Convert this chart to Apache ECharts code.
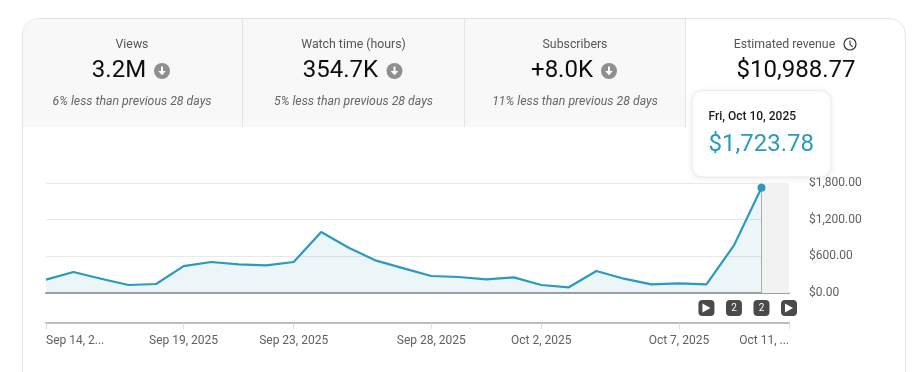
<!DOCTYPE html>
<html><head><meta charset="utf-8">
<style>html,body{margin:0;padding:0;background:#fff}#c{width:923px;height:372px}</style>
<script src="https://cdn.jsdelivr.net/npm/echarts@6/dist/echarts.min.js"></script>
</head><body><div id="c"></div>
<script>
const dates = ['Sep 14, 2025','Sep 15, 2025','Sep 16, 2025','Sep 17, 2025','Sep 18, 2025','Sep 19, 2025','Sep 20, 2025','Sep 21, 2025','Sep 22, 2025','Sep 23, 2025','Sep 24, 2025','Sep 25, 2025','Sep 26, 2025','Sep 27, 2025','Sep 28, 2025','Sep 29, 2025','Sep 30, 2025','Oct 1, 2025','Oct 2, 2025','Oct 3, 2025','Oct 4, 2025','Oct 5, 2025','Oct 6, 2025','Oct 7, 2025','Oct 8, 2025','Oct 9, 2025','Oct 10, 2025','Oct 11, 2025'];
const revenue = [218,343,234,131,147,441,507,469,452,507,998,741,529,403,278,262,223,256,131,93,360,234,142,158,142,779,1723.78,null];
const tickDates = ['Sep 14, 2025','Sep 19, 2025','Sep 23, 2025','Sep 28, 2025','Oct 2, 2025','Oct 7, 2025','Oct 11, 2025'];
const tickLabels = ['Sep 14, 2...','Sep 19, 2025','Sep 23, 2025','Sep 28, 2025','Oct 2, 2025','Oct 7, 2025','Oct 11, ...'];
const annotationDates = ['Oct 8, 2025','Oct 9, 2025','Oct 10, 2025','Oct 11, 2025'];
const annotationLabels = ['play','2','2','play'];
const focusDate = 'Oct 10, 2025';
const focusLabel = 'Fri, Oct 10, 2025';
const focusValue = '$1,723.78';
const metricTitles = ['Views','Watch time (hours)','Subscribers','Estimated revenue'];
const metricValues = ['3.2M','354.7K','+8.0K','$10,988.77'];
const metricNotes = ['6% less than previous 28 days','5% less than previous 28 days','11% less than previous 28 days'];

const FONT = 'Roboto, sans-serif';
const BLUE = '#2a9ac1';
const money = v => '$' + v.toFixed(2).replace(/\B(?=(\d{3})+(?!\d))/g, ',');
const txt = (x, y, text, fontSize, fill, extra) => ({type:'text', x, y, z:20, silent:true,
  style:Object.assign({text, fontFamily:FONT, fontSize, fill, align:'center', verticalAlign:'middle'}, extra||{})});
const downIcon = (cx, cy) => ({type:'group', x:cx, y:cy, silent:true, children:[
  {type:'circle', z:20, shape:{cx:0, cy:0, r:8}, style:{fill:'#8f8f8f'}},
  {type:'rect', z:21, shape:{x:-1, y:-4.5, width:2, height:6}, style:{fill:'#fff'}},
  {type:'polygon', z:21, shape:{points:[[-3.8,0],[3.8,0],[0,4.2]]}, style:{fill:'#fff'}}
]});

const headerCenters = [132, 353.5, 575, 796];
const graphics = [
  {type:'rect', z:-3, silent:true, shape:{x:22.5, y:18.5, width:883, height:420, r:16}, style:{fill:'#fff', stroke:'#e3e3e3', lineWidth:1}},
  {type:'rect', z:-2, silent:true, shape:{x:23, y:19, width:662, height:108, r:[15,0,0,0]}, style:{fill:'#f8f8f8'}},
  {type:'rect', z:-1, silent:true, shape:{x:242, y:19, width:1, height:108}, style:{fill:'#e3e3e3'}},
  {type:'rect', z:-1, silent:true, shape:{x:464, y:19, width:1, height:108}, style:{fill:'#e3e3e3'}},
  {type:'rect', z:-1, silent:true, shape:{x:685, y:19, width:1, height:108}, style:{fill:'#e3e3e3'}},
];
metricTitles.forEach((t,i)=>{
  const cx = headerCenters[i];
  graphics.push(txt(i===3?784.5:cx, 44.5, t, 12.3, '#555', {}));
  graphics.push(txt(i===3?796:cx-13, 71, metricValues[i], 24, '#0d0d0d', {}));
  if(i<3){
    const w = [52,74,60][i];
    graphics.push(downIcon(cx-13+w/2+17, 71));
    graphics.push(txt(cx, 101.5, metricNotes[i], 12.3, '#666', {fontStyle:'italic'}));
  }
});
graphics.push({type:'group', x:850, y:44, silent:true, children:[
  {type:'circle', z:20, shape:{cx:0, cy:0, r:6}, style:{fill:'none', stroke:'#333', lineWidth:1.2}},
  {type:'polyline', z:20, shape:{points:[[0,-3.5],[0,0.3],[2.5,2.8]]}, style:{fill:'none', stroke:'#333', lineWidth:1.1}}
]});
graphics.push({type:'rect', z:18, silent:true, shape:{x:692, y:90.5, width:139, height:86.5, r:10},
  style:{fill:'#fff', stroke:'#ececec', lineWidth:1, shadowBlur:6, shadowColor:'rgba(0,0,0,0.08)', shadowOffsetY:1}});
graphics.push(txt(708.5, 116.5, focusLabel, 12, '#1a1a1a', {align:'left', fontWeight:500}));
graphics.push(txt(708.5, 145, focusValue, 24, BLUE, {align:'left'}));

const annData = annotationDates.map((d,i)=>({value:[d,0], name:annotationLabels[i]}));
const focusIndex = dates.indexOf(focusDate);

const option = {
  animation:false,
  graphic:{elements:graphics},
  grid:[
    {left:46, width:743, top:183, height:110, containLabel:false},
    {left:46, width:743, top:300, height:16}
  ],
  xAxis:[
    {type:'category', gridIndex:0, data:dates, boundaryGap:false, position:'bottom', offset:30,
      axisLine:{onZero:false, lineStyle:{color:'#bdbdbd', width:2}},
      axisTick:{show:true, length:6, interval:(i,v)=>tickDates.includes(v), lineStyle:{color:'#dedede'}},
      axisLabel:{interval:(i,v)=>tickDates.includes(v), formatter:v=>tickLabels[tickDates.indexOf(v)],
        fontFamily:FONT, fontSize:12, color:'#606060', margin:12, alignMinLabel:'left', alignMaxLabel:'right'},
      splitLine:{show:false}},
    {type:'category', gridIndex:0, data:dates, boundaryGap:false, position:'bottom',
      axisLine:{onZero:false, lineStyle:{color:'#a0a0a0', width:2}}, axisTick:{show:false}, axisLabel:{show:false}, splitLine:{show:false}},
    {type:'category', gridIndex:1, data:dates, boundaryGap:false, show:false}
  ],
  yAxis:[
    {type:'value', gridIndex:0, position:'right', min:0, max:1800, interval:600,
      axisLine:{show:false}, axisTick:{show:false},
      axisLabel:{formatter:money, fontFamily:FONT, fontSize:12, color:'#606060', margin:20, padding:[2,0,0,0]},
      splitLine:{lineStyle:{color:'#e8e8e8', width:1}}},
    {type:'value', gridIndex:1, min:-1, max:1, show:false}
  ],
  series:[
    {type:'line', name:'Estimated revenue', xAxisIndex:0, yAxisIndex:0, data:revenue, z:5,
      showSymbol:true, showAllSymbol:true, symbol:'circle',
      symbolSize:(v,p)=>p.dataIndex===focusIndex?8:0,
      lineStyle:{color:BLUE, width:2.2}, itemStyle:{color:BLUE, borderWidth:0},
      areaStyle:{color:'rgba(42,154,193,0.13)'},
      markArea:{silent:true, z:1, itemStyle:{color:'#f2f2f2', opacity:1}, data:[[{xAxis:focusDate},{xAxis:dates[dates.length-1]}]]},
      markLine:{silent:true, symbol:'none', label:{show:false}, lineStyle:{color:'#b0b0b0', width:1, type:'solid'}, data:[{xAxis:focusDate}]}
    },
    {type:'scatter', name:'Annotations', xAxisIndex:2, yAxisIndex:1, data:annData, symbol:'roundRect', symbolSize:16, clip:false, z:6,
      itemStyle:{color:'#4a4a4a', opacity:1},
      label:{show:true, position:'inside', formatter:p=>p.name==='play'?'':p.name, color:'#fff', fontFamily:FONT, fontSize:10}},
    {type:'scatter', name:'Play', xAxisIndex:2, yAxisIndex:1, data:annData.filter(d=>d.name==='play'), symbol:'triangle', symbolSize:[9,8], symbolRotate:-90, clip:false, z:7,
      itemStyle:{color:'#fff', opacity:1}}
  ]
};
const chart = echarts.init(document.getElementById('c'));
chart.setOption(option);
</script></body></html>
